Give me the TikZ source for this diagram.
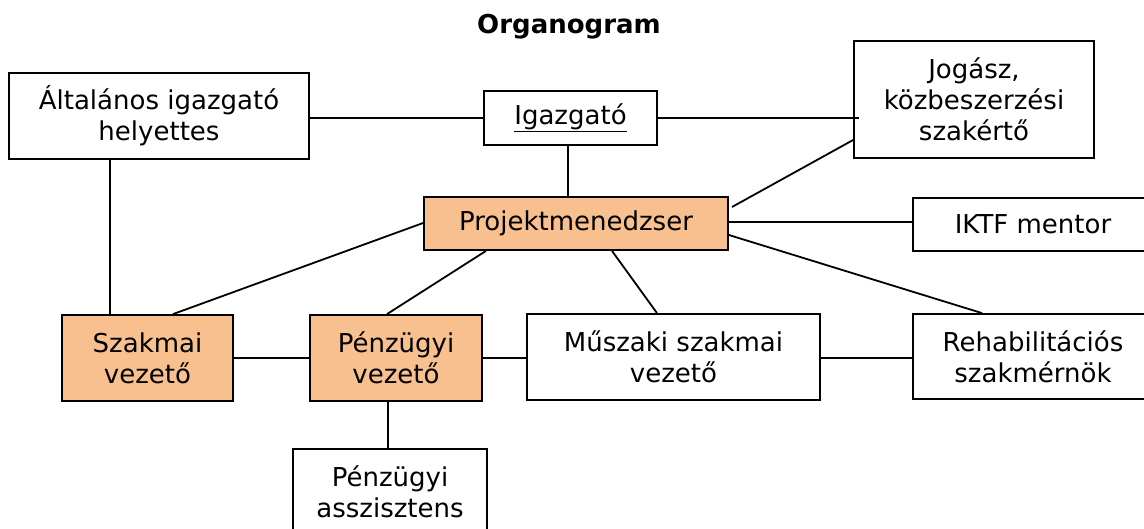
\documentclass[tikz,border=0pt]{standalone}
\usepackage{fontspec}
\setmainfont{DejaVu Sans}
\definecolor{boxorange}{RGB}{249,192,143}
\begin{document}
\begin{tikzpicture}[x=1pt,y=-1pt,
  box/.style={draw=black,line width=1.8pt,fill=white,inner sep=0pt,align=center,
    font=\fontsize{26}{31}\selectfont},
  obox/.style={box,fill=boxorange},
  conn/.style={line width=1.8pt,draw=black}]
\useasboundingbox (0,0) rectangle (1144,528);
\node[font=\fontsize{26}{30}\selectfont\bfseries] (title) at (569,27) {Organogram};
\node[box,minimum width=300pt,minimum height=86pt] (alt) at (159,116) {Általános igazgató\\helyettes};
\node[box,minimum width=173pt,minimum height=54pt] (ig) at (570.5,118) {\underline{Igazgató}};
\node[box,minimum width=240pt,minimum height=117pt] (jog) at (974,99.5) {Jogász,\\közbeszerzési\\szakértő};
\node[obox,minimum width=304pt,minimum height=53pt] (pm) at (576,223.5) {Projektmenedzser};
\node[box,minimum width=240pt,minimum height=53pt] (iktf) at (1033,224.5) {IKTF mentor};
\node[obox,minimum width=171pt,minimum height=86pt] (szak) at (147.5,358) {Szakmai\\vezető};
\node[obox,minimum width=172pt,minimum height=86pt] (penz) at (396,358) {Pénzügyi\\vezető};
\node[box,minimum width=293pt,minimum height=86pt] (musz) at (673.5,357) {Műszaki szakmai\\vezető};
\node[box,minimum width=240pt,minimum height=85pt] (rehab) at (1033,356.5) {Rehabilitációs\\szakmérnök};
\node[box,minimum width=194pt,minimum height=86pt] (asz) at (390,492) {Pénzügyi\\asszisztens};
\coordinate (jp) at (732,207);
\draw[conn] (ig.west) -- (ig.west -| alt.east);
\draw[conn] (ig.east) -- (ig.east -| 859,0);
\draw[conn] (ig.south -| 568,0) -- (pm.north -| 568,0);
\draw[conn] (jog.west |- 0,140) -- (jp);
\draw[conn] (pm.east |- 0,222) -- (iktf.west |- 0,222);
\draw[conn] (pm.west |- 0,223) -- (szak.north -| 173,0);
\draw[conn] (alt.south -| 110,0) -- (szak.north -| 110,0);
\draw[conn] (pm.south -| 486,0) -- (penz.north -| 387,0);
\draw[conn] (pm.south -| 612,0) -- (musz.north -| 657,0);
\draw[conn] (pm.east |- 0,235) -- (rehab.north -| 982,0);
\draw[conn] (szak.east) -- (penz.west);
\draw[conn] (penz.east) -- (musz.west |- penz.east);
\draw[conn] (musz.east |- 0,358) -- (rehab.west |- 0,358);
\draw[conn] (penz.south -| 388,0) -- (asz.north -| 388,0);
\end{tikzpicture}
\end{document}
